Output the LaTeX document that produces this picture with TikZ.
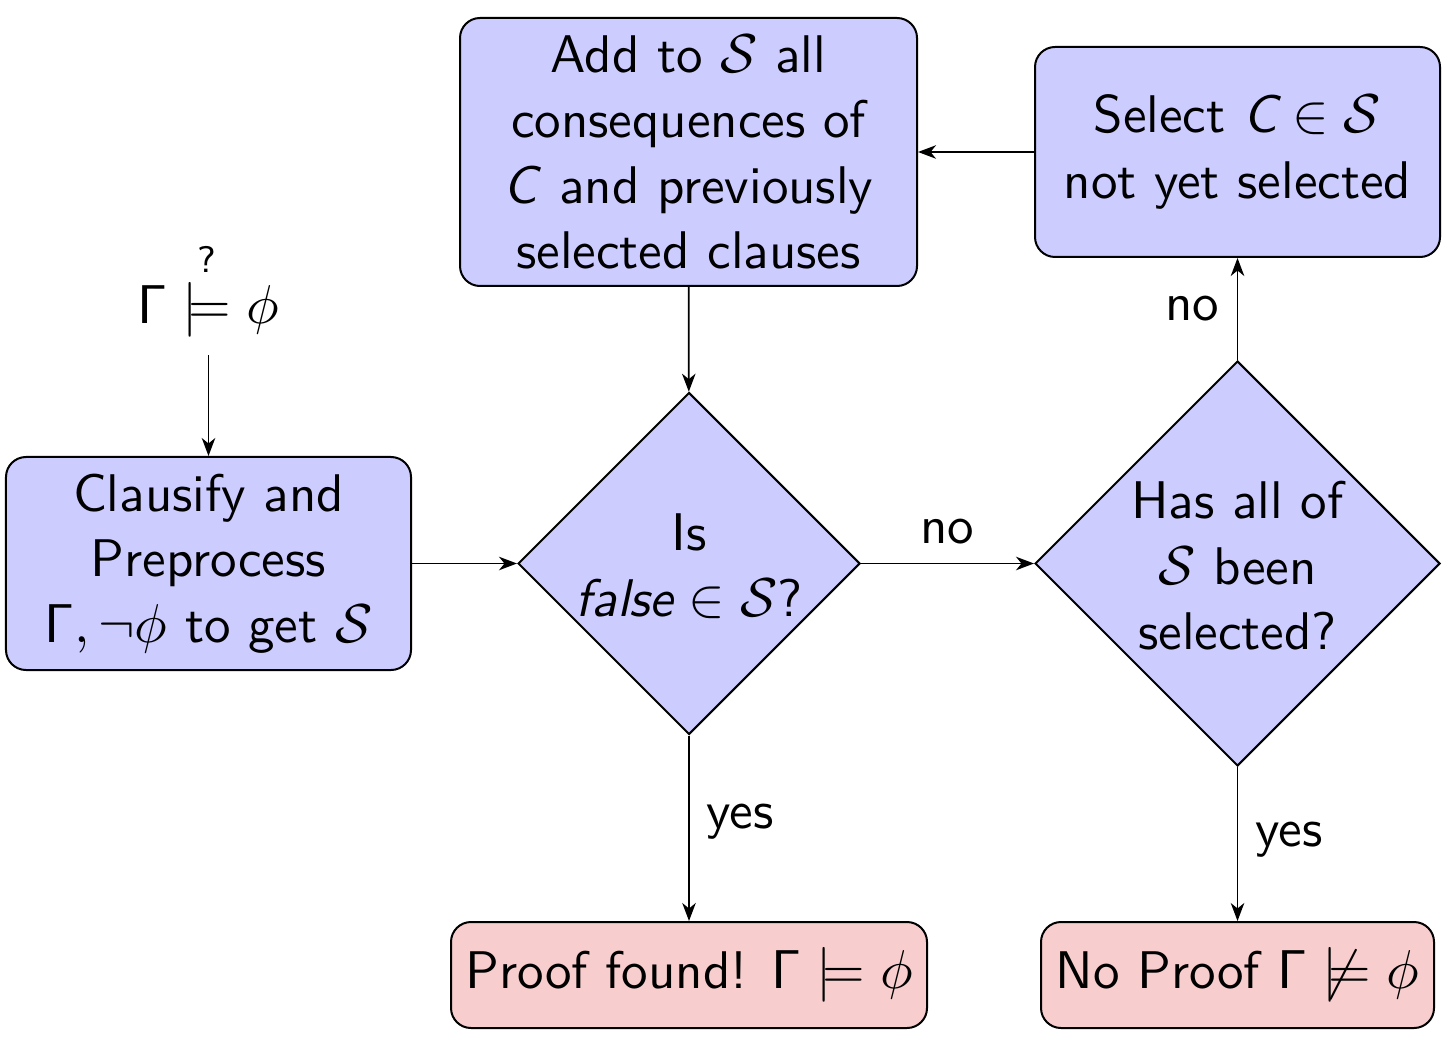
\documentclass[tikz,border=0pt]{standalone}
\usepackage{amsmath,amssymb}
\usetikzlibrary{shapes.geometric,arrows.meta}
\definecolor{boxblue}{RGB}{204,204,255}
\definecolor{boxpink}{RGB}{247,205,205}
\tikzset{
  txt/.style={font=\sffamily\fontsize{10.6}{13.1}\selectfont, align=center},
  procbox/.style={txt, draw, rounded corners=4pt, fill=boxblue, inner sep=0pt, line width=0.4pt},
  endbox/.style={txt, draw, rounded corners=4pt, fill=boxpink, inner sep=0pt, line width=0.4pt},
  decision/.style={draw, diamond, aspect=1, fill=boxblue, inner sep=0pt, line width=0.4pt},
  arr/.style={-{Stealth[length=3.6pt,width=2.7pt,inset=1.1pt]}, line width=0.35pt},
  lbl/.style={txt, inner sep=0pt}
}
\begin{document}
\begin{tikzpicture}[x=0.2pt,y=-0.2pt]
\useasboundingbox (0,0) rectangle (1448,1050);

\node[txt, anchor=base] (gam) at (208.5,324) {$\mathsf{\Gamma} \overset{\text{?}}{\models} \phi$};

\node[procbox, minimum width=81pt, minimum height=42.6pt] (clau) at (208.5,563.5)
  {Clausify and\\ Preprocess\\ $\mathsf{\Gamma}, \neg\phi$ to get $\mathcal{S}$};

\node[procbox, minimum width=91.4pt, minimum height=53.6pt] (add) at (688.5,152)
  {Add to $\mathcal{S}$ all\\ consequences of\\ \textit{C} and previously\\ selected clauses};

\node[procbox, minimum width=81pt, minimum height=42pt] (sel) at (1237.5,152)
  {Select $\textit{C} \in \mathcal{S}$\\ not yet selected};

\node[decision, minimum width=68.4pt, minimum height=68.4pt] (d1) at (689,563.5) {};
\node[lbl] (d1t) at (689,566) {Is\\ $\textit{false} \in \mathcal{S}$?};

\node[decision, minimum width=81pt, minimum height=81pt] (d2) at (1237.5,563.5) {};
\node[lbl] (d2t) at (1237.5,566) {Has all of\\ $\mathcal{S}$ been\\ selected?};

\node[endbox, minimum width=95.2pt, minimum height=21.2pt] (pf) at (689,975)
  {Proof found!\hspace{0.45em}$\mathsf{\Gamma} \models \phi$};

\node[endbox, minimum width=78.6pt, minimum height=21.2pt] (np) at (1237.5,975)
  {No Proof $\mathsf{\Gamma} \not\models \phi$};

\draw[arr] (gam) -- (clau);
\draw[arr] (clau) -- (d1);
\draw[arr] (d1) -- (d2);
\draw[arr] (d2) -- (sel);
\draw[arr] (sel) -- (add);
\draw[arr] (add) -- (d1);
\draw[arr] (d1) -- (pf);
\draw[arr] (d2) -- (np);

\node[lbl] (lno1) at (947,532) {no};
\node[lbl] (lno2) at (1192,309) {no};
\node[lbl] (lyes1) at (740,822) {yes};
\node[lbl] (lyes2) at (1289,840) {yes};
\end{tikzpicture}
\end{document}
